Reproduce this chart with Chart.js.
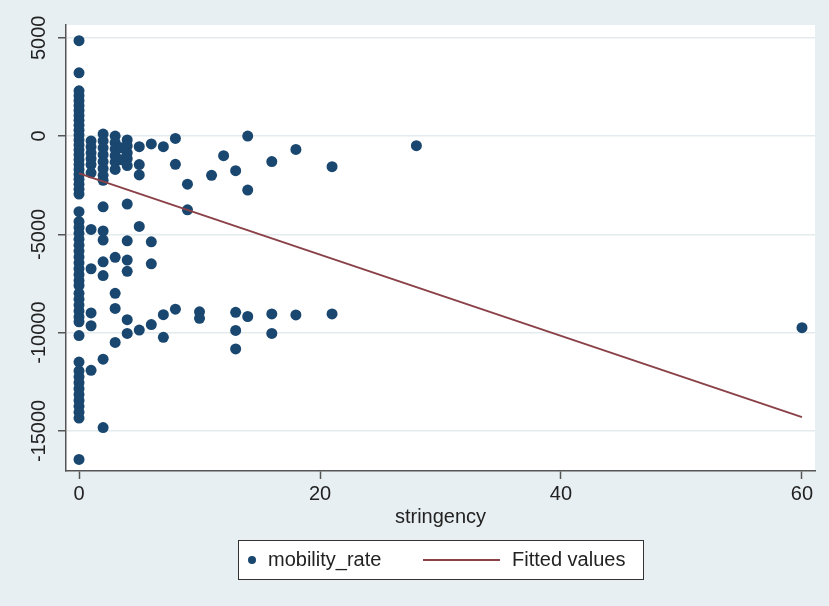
<!DOCTYPE html>
<html><head><meta charset="utf-8">
<script src="https://cdn.jsdelivr.net/npm/chart.js@4.4.1/dist/chart.umd.min.js"></script>
<style>html,body{margin:0;padding:0;background:#e8eff2;}canvas{display:block}</style>
</head><body><canvas id="c" width="829" height="606"></canvas>
<script>
// stringency (x) and mobility_rate (y)
const stringency = [
  0,0,0,0,0,0,0,0,0,0,0,0,0,0,0,0,0,0,0,0,0,0,0,0,
  0,0,0,0,0,0,0,0,0,0,0,0,0,0,0,0,0,0,0,0,0,0,0,0,0,0,0,0,0,0,0,
  1,1,1,1,1,1,1,1,1,1,1,
  2,2,2,2,2,2,2,2,2,2,2,2,2,2,2,
  3,3,3,3,3,3,3,3,3,3,
  3.5,3.5,
  4,4,4,4,4,4,4,4,4,4,4,
  5,5,5,5,5,
  6,6,6,6,
  7,7,7,
  8,8,8,
  9,9,
  10,10,
  11,12,
  13,13,13,13,
  14,14,14,
  16,16,16,
  18,18,
  21,21,
  28,60
];
const mobilityRate = [
  4850,3220,2300,2050,1800,1550,1300,1050,800,550,300,50,-200,-450,-700,-950,-1200,-1450,-1700,-1950,-2200,-2450,-2700,-2950,
  -3850,-4350,-4650,-4950,-5250,-5550,-5850,-6150,-6450,-6750,-7050,-7350,-7600,-8000,-8300,-8600,-8900,-9200,-9450,-10150,-11500,-11950,-12250,-12550,-12850,-13150,-13450,-13750,-14050,-14350,-16450,
  -250,-550,-850,-1150,-1450,-1870,-4750,-6750,-9000,-9650,-11920,
  100,-250,-600,-950,-1300,-1650,-2000,-3600,-4830,-5290,-6400,-7100,-11350,-14830,-2250,
  0,-330,-660,-1000,-1330,-1700,-6170,-8000,-8770,-10500,
  -600,-1200,
  -200,-500,-850,-1150,-1500,-3460,-5330,-6310,-6880,-9340,-10040,
  -540,-1450,-1980,-4600,-9870,
  -400,-5380,-6500,-9590,
  -540,-9090,-10240,
  -120,-1440,-8810,
  -2450,-3750,
  -8940,-9270,
  -2000,-1000,
  -1760,-8970,-9890,-10830,
  0,-2750,-9180,
  -1300,-9050,-10040,
  -680,-9100,
  -1560,-9050,
  -490,-9750
];
const fitX = [0, 60];
const fitY = [-1900, -14300];
const xTicks = [0, 20, 40, 60];
const yTicks = [-15000, -10000, -5000, 0, 5000];

const NAVY = '#1a476f', MAROON = '#8a4148', AXIS = '#555555', TXT = '#222222';
const FONT = '"Liberation Sans", Arial, sans-serif';

const points = stringency.map((x, i) => ({x: x, y: mobilityRate[i]}));
const fitPts = fitX.map((x, i) => ({x: x, y: fitY[i]}));

const deco = {
  id: 'deco',
  beforeDraw(chart) {
    const {ctx, chartArea: a} = chart;
    ctx.save();
    ctx.fillStyle = '#e8eff2';
    ctx.fillRect(0, 0, chart.width, chart.height);
    ctx.fillStyle = '#ffffff';
    ctx.fillRect(a.left, a.top, a.right - a.left, a.bottom - a.top);
    ctx.restore();
  },
  afterDraw(chart) {
    const {ctx} = chart;
    const ys = chart.scales.y;
    ctx.save();
    ctx.fillStyle = TXT;
    ctx.font = '20px ' + FONT;
    ctx.textAlign = 'center';
    ctx.textBaseline = 'middle';
    yTicks.forEach(v => {
      const py = ys.getPixelForValue(v);
      ctx.save();
      ctx.translate(39, py);
      ctx.rotate(-Math.PI / 2);
      ctx.fillText(String(v), 0, 0);
      ctx.restore();
    });
    // legend
    const bx = 238.5, by = 540.5, bw = 405, bh = 39;
    ctx.fillStyle = '#ffffff';
    ctx.fillRect(bx, by, bw, bh);
    ctx.strokeStyle = '#333333';
    ctx.lineWidth = 1;
    ctx.strokeRect(bx, by, bw, bh);
    const cy = by + bh / 2;
    ctx.fillStyle = NAVY;
    ctx.beginPath(); ctx.arc(252, cy, 4, 0, Math.PI * 2); ctx.fill();
    ctx.fillStyle = TXT;
    ctx.textAlign = 'left';
    ctx.fillText('mobility_rate', 268, cy);
    ctx.strokeStyle = MAROON; ctx.lineWidth = 2;
    ctx.beginPath(); ctx.moveTo(423, cy); ctx.lineTo(500, cy); ctx.stroke();
    ctx.fillStyle = TXT;
    ctx.fillText('Fitted values', 512, cy);
    ctx.restore();
  }
};

new Chart(document.getElementById('c'), {
  type: 'scatter',
  data: {
    datasets: [
      {label: 'mobility_rate', data: points, backgroundColor: NAVY, borderColor: NAVY,
       pointRadius: 5.5, pointHoverRadius: 5.5, borderWidth: 0, order: 1},
      {label: 'Fitted values', type: 'line', data: fitPts, borderColor: MAROON, borderWidth: 2,
       pointRadius: 0, fill: false, order: 0}
    ]
  },
  options: {
    responsive: false,
    animation: false,
    devicePixelRatio: 1,
    layout: {padding: {left: 0, top: 25, right: 14, bottom: 0}},
    plugins: {legend: {display: false}, tooltip: {enabled: false}},
    scales: {
      x: {
        type: 'linear', min: -1.08, max: 61.08,
        afterBuildTicks: s => { s.ticks = xTicks.map(v => ({value: v})); },
        afterFit: s => { s.height = 135; },
        grid: {drawOnChartArea: false, drawTicks: true, tickLength: 8, tickColor: AXIS, tickWidth: 1.5},
        border: {color: AXIS, width: 1.5},
        ticks: {color: TXT, font: {size: 20, family: FONT}, padding: 3, maxRotation: 0},
        title: {display: true, text: 'stringency', color: TXT, font: {size: 20, family: FONT},
                padding: {top: 0, bottom: 77}}
      },
      y: {
        type: 'linear', min: -17040, max: 5650,
        afterBuildTicks: s => { s.ticks = yTicks.map(v => ({value: v})); },
        afterFit: s => { s.width = 66; },
        grid: {color: '#e3ebee', lineWidth: 1.5, drawTicks: true, tickLength: 8, tickColor: AXIS, tickWidth: 1.5},
        border: {color: AXIS, width: 1.5},
        ticks: {display: false}
      }
    }
  },
  plugins: [deco]
});
</script></body></html>
